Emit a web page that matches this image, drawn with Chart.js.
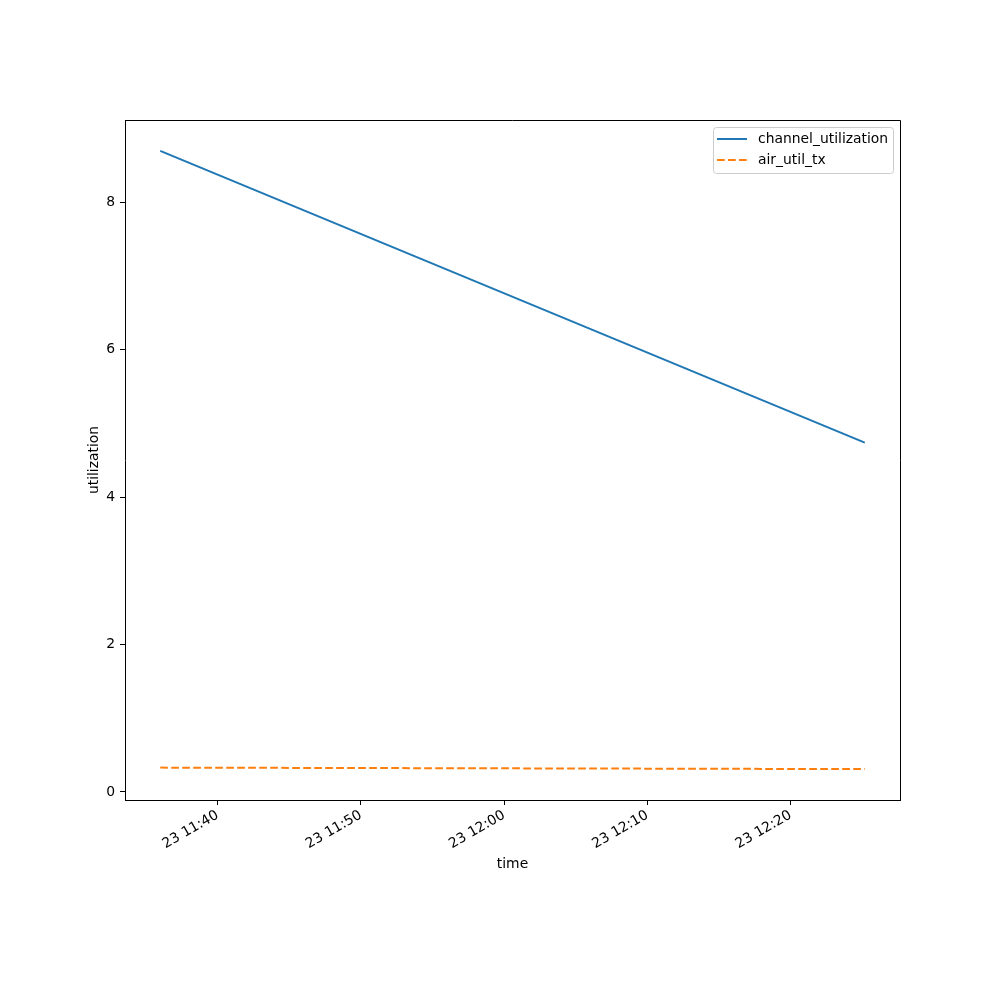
<!DOCTYPE html>
<html>
<head>
<meta charset="utf-8">
<script src="https://cdn.jsdelivr.net/npm/chart.js@4/dist/chart.umd.min.js"></script>
<style>
  html, body { margin: 0; padding: 0; background: #fff; }
</style>
</head>
<body>
<canvas id="utilChart" width="1000" height="1000"></canvas>
<script>
// data (day 23)
const times = ['11:36:00', '12:25:11'];
const channelUtilization = [8.70, 4.74];
const airUtilTx = [0.33, 0.31];

const xTickTimes = ['11:40', '11:50', '12:00', '12:10', '12:20'];
const xTickLabels = ['23 11:40', '23 11:50', '23 12:00', '23 12:10', '23 12:20'];
const yTicks = [0, 2, 4, 6, 8];

// minutes since 11:00
function toMin(s) {
    const p = s.split(':').map(Number);
    return (p[0] - 11) * 60 + p[1] + (p[2] || 0) / 60;
}
const xs = times.map(toMin);
const xTickVals = xTickTimes.map(toMin);

// matplotlib style 5% margins
function margins(vals) {
    const lo = Math.min(...vals), hi = Math.max(...vals);
    const m = (hi - lo) * 0.05;
    return [lo - m, hi + m];
}
const [xMin, xMax] = margins(xs);
const [yMin, yMax] = margins(channelUtilization.concat(airUtilTx));

Chart.defaults.font.family = 'DejaVu Sans';
Chart.defaults.font.size = 13.9;
Chart.defaults.color = '#000';

// frame on top/right + legend box in the upper right corner
const framePlugin = {
    id: 'frame',
    afterDatasetsDraw(chart) {
        const ctx = chart.ctx;
        const a = chart.chartArea;
        ctx.save();
        ctx.strokeStyle = '#000';
        ctx.lineWidth = 1;
        ctx.beginPath();
        ctx.moveTo(a.left, a.top + 0.5);
        ctx.lineTo(a.right + 0.5, a.top + 0.5);
        ctx.lineTo(a.right + 0.5, a.bottom);
        ctx.stroke();

        // legend
        const w = 180, h = 46;
        const bx = a.right - 7 - w, by = a.top + 7;
        ctx.beginPath();
        ctx.roundRect(bx + 0.5, by + 0.5, w, h, 3);
        ctx.fillStyle = 'rgba(255,255,255,0.8)';
        ctx.fill();
        ctx.strokeStyle = '#cccccc';
        ctx.stroke();
        ctx.font = '13.9px "DejaVu Sans"';
        ctx.textBaseline = 'middle';
        chart.data.datasets.forEach((ds, i) => {
            const y = by + 12 + i * 21;
            ctx.beginPath();
            ctx.strokeStyle = ds.borderColor;
            ctx.lineWidth = ds.borderWidth;
            ctx.setLineDash(ds.borderDash || []);
            ctx.moveTo(bx + 4, y);
            ctx.lineTo(bx + 34, y);
            ctx.stroke();
            ctx.setLineDash([]);
            ctx.fillStyle = '#000';
            ctx.fillText(ds.label, bx + 45, y);
        });
        ctx.restore();
    }
};

const ctx = document.getElementById('utilChart').getContext('2d');
new Chart(ctx, {
    type: 'line',
    data: {
        datasets: [{
            label: 'channel_utilization',
            data: xs.map((x, i) => ({ x: x, y: channelUtilization[i] })),
            borderColor: '#1f77b4',
            borderWidth: 2,
            pointRadius: 0,
            fill: false,
            tension: 0
        }, {
            label: 'air_util_tx',
            data: xs.map((x, i) => ({ x: x, y: airUtilTx[i] })),
            borderColor: '#ff7f0e',
            borderWidth: 2,
            borderDash: [7.7, 3.3],
            pointRadius: 0,
            fill: false,
            tension: 0
        }]
    },
    options: {
        responsive: false,
        animation: false,
        devicePixelRatio: 1,
        layout: { padding: { left: 82, right: 100, top: 120, bottom: 123 } },
        plugins: {
            legend: { display: false },
            tooltip: { enabled: false }
        },
        scales: {
            x: {
                type: 'linear',
                min: xMin,
                max: xMax,
                afterBuildTicks: (s) => { s.ticks = xTickVals.map(v => ({ value: v })); },
                afterFit: (s) => { s.height = 77; },
                ticks: {
                    minRotation: 30,
                    maxRotation: 30,
                    padding: 2,
                    callback: (v) => xTickLabels[xTickVals.indexOf(v)]
                },
                grid: { drawOnChartArea: false, drawTicks: true, tickLength: 5, color: '#000' },
                border: { color: '#000', width: 1 },
                title: { display: true, text: 'time', padding: 4 }
            },
            y: {
                min: yMin,
                max: yMax,
                afterBuildTicks: (s) => { s.ticks = yTicks.map(v => ({ value: v })); },
                afterFit: (s) => { s.width = 43; },
                ticks: { padding: 5 },
                grid: { drawOnChartArea: false, drawTicks: true, tickLength: 5, color: '#000' },
                border: { color: '#000', width: 1 },
                title: { display: true, text: 'utilization', padding: 4 }
            }
        }
    },
    plugins: [framePlugin]
});
</script>
</body>
</html>
